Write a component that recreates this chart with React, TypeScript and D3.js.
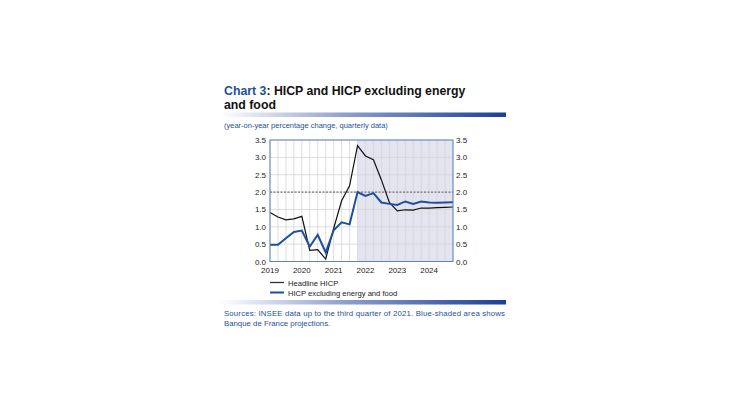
import { useEffect, useRef } from "react";
import * as d3 from "d3";

// quarterly data, 2019Q1 .. 2024Q4
const quarters: string[] = [
  "2019Q1", "2019Q2", "2019Q3", "2019Q4",
  "2020Q1", "2020Q2", "2020Q3", "2020Q4",
  "2021Q1", "2021Q2", "2021Q3", "2021Q4",
  "2022Q1", "2022Q2", "2022Q3", "2022Q4",
  "2023Q1", "2023Q2", "2023Q3", "2023Q4",
  "2024Q1", "2024Q2", "2024Q3", "2024Q4",
];

const headline: number[] = [
  1.41, 1.28, 1.2, 1.23, 1.3, 0.32, 0.34, 0.07, 0.95, 1.75, 2.18, 3.34,
  3.04, 2.93, 2.35, 1.7, 1.46, 1.49, 1.48, 1.54, 1.54, 1.55, 1.56, 1.57,
];

const core: number[] = [
  0.48, 0.48, 0.67, 0.85, 0.89, 0.43, 0.77, 0.26, 0.9, 1.13, 1.07, 2.0,
  1.89, 1.97, 1.7, 1.66, 1.63, 1.73, 1.66, 1.73, 1.7, 1.69, 1.7, 1.71,
];

const yTicks: number[] = [0, 0.5, 1, 1.5, 2, 2.5, 3, 3.5];
const yearLabels: string[] = ["2019", "2020", "2021", "2022", "2023", "2024"];
const projectionStart = "2021Q4";
const targetLevel = 2.0;

const seriesNames = ["Headline HICP", "HICP excluding energy and food"];

const BLUE = "#1d4f9e";
const FONT = "'Liberation Sans', Arial, sans-serif";

export default function App() {
  const svgRef = useRef<SVGSVGElement>(null);

  useEffect(() => {
    if (!svgRef.current) return;
    const svg = d3.select(svgRef.current);
    svg.selectAll("*").remove();

    const left = 270;
    const right = 453;
    const top = 140;
    const bottom = 261.5;

    const x = d3.scalePoint<string>().domain(quarters).range([left, right]);
    const y = d3.scaleLinear().domain([0, 3.5]).range([bottom, top]);

    const defs = svg.append("defs");
    const grad = defs
      .append("linearGradient")
      .attr("id", "bar-gradient")
      .attr("x1", "0%")
      .attr("x2", "100%");
    grad.append("stop").attr("offset", "0%").attr("stop-color", "#ffffff");
    grad.append("stop").attr("offset", "45%").attr("stop-color", "#8c9dcc");
    grad.append("stop").attr("offset", "100%").attr("stop-color", "#1a3f93");

    // title
    const title = svg
      .append("text")
      .attr("x", 224)
      .attr("y", 95)
      .attr("font-family", FONT)
      .attr("font-weight", "bold")
      .attr("font-size", 12.3);
    title.append("tspan").attr("fill", BLUE).text("Chart 3");
    title.append("tspan").attr("fill", "#111").text(": HICP and HICP excluding energy");
    svg
      .append("text")
      .attr("x", 224)
      .attr("y", 108.5)
      .attr("font-family", FONT)
      .attr("font-weight", "bold")
      .attr("font-size", 12.3)
      .attr("fill", "#111")
      .text("and food");

    svg
      .append("rect")
      .attr("x", 220)
      .attr("y", 112.5)
      .attr("width", 286)
      .attr("height", 4.5)
      .attr("fill", "url(#bar-gradient)");

    svg
      .append("text")
      .attr("x", 224)
      .attr("y", 127.5)
      .attr("font-family", FONT)
      .attr("font-size", 7.5)
      .attr("fill", BLUE)
      .text("(year-on-year percentage change, quarterly data)");

    // projection shading
    svg
      .append("rect")
      .attr("x", x(projectionStart)!)
      .attr("y", top)
      .attr("width", right - x(projectionStart)!)
      .attr("height", bottom - top)
      .attr("fill", "#e4e4f1");

    // grid
    svg
      .append("g")
      .selectAll("line")
      .data(quarters)
      .join("line")
      .attr("x1", (d) => x(d)!)
      .attr("x2", (d) => x(d)!)
      .attr("y1", top)
      .attr("y2", bottom)
      .attr("stroke", "#d4d4d8")
      .attr("stroke-width", 0.8);

    svg
      .append("g")
      .selectAll("line")
      .data(yTicks)
      .join("line")
      .attr("x1", left)
      .attr("x2", right)
      .attr("y1", (d) => y(d))
      .attr("y2", (d) => y(d))
      .attr("stroke", "#d4d4d8")
      .attr("stroke-width", 0.8);

    svg
      .append("line")
      .attr("x1", left)
      .attr("x2", right)
      .attr("y1", y(targetLevel))
      .attr("y2", y(targetLevel))
      .attr("stroke", "#777")
      .attr("stroke-width", 1.2)
      .attr("stroke-dasharray", "2,1.5");

    const line = d3
      .line<number>()
      .x((_, i) => x(quarters[i])!)
      .y((d) => y(d));

    svg
      .append("path")
      .datum(headline)
      .attr("d", line)
      .attr("fill", "none")
      .attr("stroke", "#111")
      .attr("stroke-width", 1.2);

    svg
      .append("path")
      .datum(core)
      .attr("d", line)
      .attr("fill", "none")
      .attr("stroke", BLUE)
      .attr("stroke-width", 2);

    // frame
    svg
      .append("rect")
      .attr("x", left)
      .attr("y", top)
      .attr("width", right - left)
      .attr("height", bottom - top)
      .attr("fill", "none")
      .attr("stroke", "#5b82c4")
      .attr("stroke-width", 1);

    // axis labels
    const fmt = d3.format(".1f");
    svg
      .append("g")
      .selectAll("text")
      .data(yTicks)
      .join("text")
      .attr("x", left - 4)
      .attr("y", (d) => y(d) + 3)
      .attr("text-anchor", "end")
      .attr("font-family", FONT)
      .attr("font-size", 8)
      .attr("fill", "#222")
      .text((d) => fmt(d));

    svg
      .append("g")
      .selectAll("text")
      .data(yTicks)
      .join("text")
      .attr("x", right + 3)
      .attr("y", (d) => y(d) + 3)
      .attr("font-family", FONT)
      .attr("font-size", 8)
      .attr("fill", "#222")
      .text((d) => fmt(d));

    svg
      .append("g")
      .selectAll("text")
      .data(yearLabels)
      .join("text")
      .attr("x", (d) => x(d + "Q1")!)
      .attr("y", bottom + 11.5)
      .attr("text-anchor", "middle")
      .attr("font-family", FONT)
      .attr("font-size", 8)
      .attr("fill", "#222")
      .text((d) => d);

    // legend
    const legend = svg.append("g");
    seriesNames.forEach((name, i) => {
      const ly = 282.5 + i * 10;
      legend
        .append("line")
        .attr("x1", 270)
        .attr("x2", 284)
        .attr("y1", ly)
        .attr("y2", ly)
        .attr("stroke", i === 0 ? "#333" : BLUE)
        .attr("stroke-width", i === 0 ? 1.3 : 2);
      legend
        .append("text")
        .attr("x", 288)
        .attr("y", ly + 3)
        .attr("font-family", FONT)
        .attr("font-size", 7.6)
        .attr("fill", "#222")
        .text(name);
    });

    svg
      .append("rect")
      .attr("x", 220)
      .attr("y", 300)
      .attr("width", 286)
      .attr("height", 4.5)
      .attr("fill", "url(#bar-gradient)");

    svg
      .append("text")
      .attr("x", 224)
      .attr("y", 316)
      .attr("font-family", FONT)
      .attr("font-size", 7.8)
      .attr("fill", BLUE)
      .attr("textLength", 281)
      .attr("lengthAdjust", "spacing")
      .text(
        "Sources: INSEE data up to the third quarter of 2021. Blue-shaded area shows"
      );
    svg
      .append("text")
      .attr("x", 224)
      .attr("y", 326)
      .attr("font-family", FONT)
      .attr("font-size", 7.8)
      .attr("fill", BLUE)
      .text("Banque de France projections.");
  }, []);

  return (
    <svg
      ref={svgRef}
      width={730}
      height={410}
      style={{ position: "absolute", left: 0, top: 0, background: "#fff" }}
    />
  );
}
